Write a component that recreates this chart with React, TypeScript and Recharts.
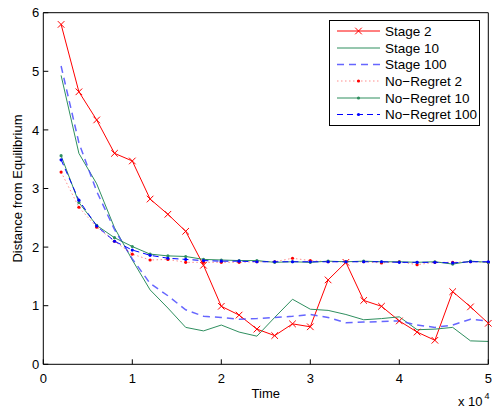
import React from 'react';
import { LineChart, Line, XAxis, YAxis, Legend } from 'recharts';

// time in units of 10^4
const time = [0.2, 0.4, 0.6, 0.8, 1.0, 1.2, 1.4, 1.6, 1.8, 2.0, 2.2, 2.4, 2.6, 2.8, 3.0, 3.2, 3.4, 3.6, 3.8, 4.0, 4.2, 4.4, 4.6, 4.8, 5.0];

const stage2 = [5.8, 4.65, 4.17, 3.6, 3.47, 2.82, 2.56, 2.27, 1.69, 0.99, 0.84, 0.6, 0.49, 0.69, 0.64, 1.44, 1.74, 1.09, 0.99, 0.74, 0.55, 0.41, 1.24, 0.98, 0.7];
const stage10 = [4.93, 3.6, 3.08, 2.33, 1.78, 1.27, 0.96, 0.63, 0.57, 0.67, 0.55, 0.48, 0.8, 1.11, 0.94, 0.92, 0.85, 0.76, 0.78, 0.81, 0.59, 0.6, 0.63, 0.4, 0.39];
const stage100 = [5.09, 3.78, 2.95, 2.3, 1.8, 1.38, 1.17, 0.93, 0.82, 0.8, 0.77, 0.78, 0.8, 0.82, 0.85, 0.8, 0.71, 0.72, 0.73, 0.74, 0.67, 0.63, 0.67, 0.77, 0.74];
const noRegret2 = [3.28, 2.68, 2.34, 2.1, 1.88, 1.78, 1.79, 1.74, 1.74, 1.74, 1.74, 1.75, 1.75, 1.81, 1.77, 1.75, 1.75, 1.75, 1.73, 1.75, 1.7, 1.74, 1.74, 1.75, 1.74];
const noRegret10 = [3.56, 2.76, 2.37, 2.16, 2.01, 1.88, 1.85, 1.84, 1.79, 1.78, 1.77, 1.77, 1.74, 1.75, 1.74, 1.76, 1.75, 1.76, 1.75, 1.75, 1.74, 1.75, 1.71, 1.76, 1.74];
const noRegret100 = [3.49, 2.8, 2.36, 2.1, 1.95, 1.86, 1.81, 1.79, 1.77, 1.76, 1.76, 1.75, 1.75, 1.75, 1.75, 1.75, 1.75, 1.75, 1.75, 1.74, 1.74, 1.74, 1.73, 1.75, 1.75];

const xTicks = [0, 1, 2, 3, 4, 5];
const yTicks = [0, 1, 2, 3, 4, 5, 6];

const data = time.map((t, i) => ({
  t,
  stage2: stage2[i],
  stage10: stage10[i],
  stage100: stage100[i],
  nr2: noRegret2[i],
  nr10: noRegret10[i],
  nr100: noRegret100[i],
}));

const FONT = '"Liberation Sans", Arial, sans-serif';
const GREEN = '#2f8f5f';

type Marker = 'x' | 'dot' | 'none';

const series: {
  key: string;
  name: string;
  color: string;
  width: number;
  dash?: string;
  opacity: number;
  marker: Marker;
}[] = [
  { key: 'stage2', name: 'Stage 2', color: '#ff0000', width: 1, opacity: 1, marker: 'x' },
  { key: 'stage10', name: 'Stage 10', color: GREEN, width: 1, opacity: 1, marker: 'none' },
  { key: 'stage100', name: 'Stage 100', color: '#4b4bff', width: 1.5, dash: '7 5', opacity: 0.85, marker: 'none' },
  { key: 'nr2', name: 'No\u2212Regret 2', color: '#ff0000', width: 1, dash: '1.5 2.5', opacity: 0.45, marker: 'dot' },
  { key: 'nr10', name: 'No\u2212Regret 10', color: GREEN, width: 1, opacity: 1, marker: 'dot' },
  { key: 'nr100', name: 'No\u2212Regret 100', color: '#0000ff', width: 1, dash: '6 4', opacity: 1, marker: 'dot' },
];

function markerShape(marker: Marker, color: string, cx: number, cy: number, key: string) {
  if (marker === 'x') {
    const s = 3.3;
    return (
      <path
        key={key}
        d={`M${cx - s},${cy - s}L${cx + s},${cy + s}M${cx - s},${cy + s}L${cx + s},${cy - s}`}
        stroke={color}
        strokeWidth={1}
        fill="none"
      />
    );
  }
  if (marker === 'dot') {
    return <circle key={key} cx={cx} cy={cy} r={1.6} fill={color} stroke="none" />;
  }
  return <g key={key} />;
}

function LegendBox() {
  const rowY = [11, 28, 44.5, 61, 78, 94.5];
  return (
    <svg width={152} height={107} style={{ display: 'block' }}>
      <rect x={0.5} y={0.5} width={150} height={105} fill="#fff" stroke="#000" strokeWidth={1} />
      {series.map((s, i) => (
        <g key={s.key}>
          <line
            x1={8}
            x2={51}
            y1={rowY[i]}
            y2={rowY[i]}
            stroke={s.color}
            strokeWidth={s.width}
            strokeOpacity={s.opacity}
            strokeDasharray={s.dash}
          />
          {markerShape(s.marker, s.color, 29.5, rowY[i], `m-${s.key}`)}
          <text x={56} y={rowY[i]} dy="0.35em" fontSize={13.5} fontFamily={FONT} fill="#000">
            {s.name}
          </text>
        </g>
      ))}
    </svg>
  );
}

export default function App() {
  const tickStyle = { fontSize: 13, fill: '#000', fontFamily: FONT };
  return (
    <div style={{ position: 'absolute', left: 0, top: 0, width: 492, height: 408, background: '#fff' }}>
      <LineChart width={492} height={408} data={data} margin={{ top: 0, right: 0, bottom: 0, left: 0 }}>
        <XAxis
          dataKey="t"
          type="number"
          domain={[0, 5]}
          ticks={xTicks}
          height={43.7}
          tickSize={-5}
          tickMargin={14}
          tick={tickStyle}
          axisLine={{ stroke: '#000' }}
          tickLine={{ stroke: '#000' }}
          label={{ value: 'Time', position: 'insideTop', offset: 24, style: { fontSize: 13, fill: '#000', fontFamily: FONT } }}
        />
        <XAxis
          xAxisId="top"
          orientation="top"
          dataKey="t"
          type="number"
          domain={[0, 5]}
          ticks={xTicks}
          height={12.7}
          tickSize={-5}
          tick={false}
          axisLine={{ stroke: '#000' }}
          tickLine={{ stroke: '#000' }}
        />
        <YAxis
          type="number"
          domain={[0, 6]}
          ticks={yTicks}
          width={43.3}
          tickSize={-5}
          tickMargin={9}
          tick={tickStyle}
          axisLine={{ stroke: '#000' }}
          tickLine={{ stroke: '#000' }}
          label={{
            value: 'Distance from Equilibrium',
            angle: -90,
            position: 'insideLeft',
            offset: 17,
            style: { textAnchor: 'middle', fontSize: 13, fill: '#000', fontFamily: FONT },
          }}
        />
        <YAxis
          yAxisId="right"
          orientation="right"
          type="number"
          domain={[0, 6]}
          ticks={yTicks}
          width={3.7}
          tickSize={-5}
          tick={false}
          axisLine={{ stroke: '#000' }}
          tickLine={{ stroke: '#000' }}
        />
        {series.map((s) => (
          <Line
            key={s.key}
            dataKey={s.key}
            name={s.name}
            type="linear"
            stroke={s.color}
            strokeWidth={s.width}
            strokeOpacity={s.opacity}
            strokeDasharray={s.dash}
            dot={
              s.marker === 'none'
                ? false
                : (p: any) => markerShape(s.marker, s.color, p.cx, p.cy, `${s.key}-${p.index}`)
            }
            activeDot={false}
            isAnimationActive={false}
          />
        ))}
        <Legend
          layout="vertical"
          align="center"
          verticalAlign="middle"
          wrapperStyle={{ left: 329, top: 19.5, width: 152, height: 107 }}
          content={() => <LegendBox />}
        />
      </LineChart>
      <svg width={492} height={408} style={{ position: 'absolute', left: 0, top: 0, pointerEvents: 'none' }}>
        <text x={458} y={406} fontSize={13} fontFamily={FONT} fill="#000">
          x 10
        </text>
        <text x={484.5} y={399} fontSize={9} fontFamily={FONT} fill="#000">
          4
        </text>
      </svg>
    </div>
  );
}
